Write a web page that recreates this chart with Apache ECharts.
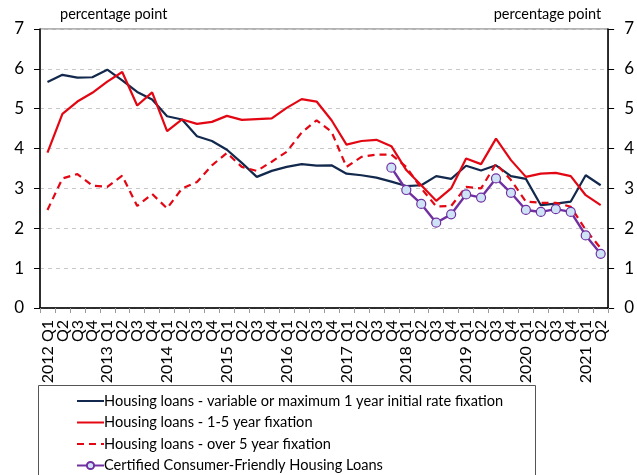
<!DOCTYPE html>
<html>
<head>
<meta charset="utf-8">
<script src="https://cdn.jsdelivr.net/npm/echarts@6/dist/echarts.min.js"></script>
<style>
  html, body { margin: 0; padding: 0; background: #fff; }
  #chart { width: 637px; height: 475px; }
</style>
</head>
<body>
<div id="chart"></div>
<script>
// quarters 2012 Q1 .. 2021 Q2
let years = ['2012', '2013', '2014', '2015', '2016', '2017', '2018', '2019', '2020', '2021'];
let quarters = [];
for (let i = 0; i < 38; i++) {
    let q = i % 4 + 1;
    quarters.push(q === 1 ? years[Math.floor(i / 4)] + ' Q1' : 'Q' + q);
}

let variableRate = [5.67, 5.85, 5.78, 5.79, 5.98, 5.71, 5.42, 5.23, 4.81, 4.73,
    4.31, 4.19, 3.97, 3.64, 3.29, 3.44, 3.54, 3.61, 3.57, 3.58,
    3.37, 3.33, 3.27, 3.17, 3.06, 3.08, 3.31, 3.24, 3.57, 3.45,
    3.58, 3.31, 3.24, 2.58, 2.62, 2.67, 3.33, 3.08];
let fix1to5 = [3.90, 4.87, 5.18, 5.40, 5.68, 5.92, 5.08, 5.41, 4.44, 4.73,
    4.62, 4.67, 4.82, 4.72, 4.74, 4.76, 5.02, 5.24, 5.18, 4.71,
    4.10, 4.19, 4.22, 4.06, 3.46, 3.08, 2.69, 3.00, 3.75, 3.61,
    4.25, 3.71, 3.29, 3.37, 3.39, 3.31, 2.83, 2.58];
let fixOver5 = [2.46, 3.25, 3.36, 3.07, 3.04, 3.32, 2.56, 2.86, 2.50, 3.00,
    3.16, 3.58, 3.89, 3.54, 3.44, 3.67, 3.92, 4.40, 4.71, 4.42,
    3.54, 3.79, 3.85, 3.85, 3.54, 3.00, 2.55, 2.56, 3.04, 3.00,
    3.62, 3.21, 2.67, 2.64, 2.64, 2.54, 1.96, 1.50];
let certified = [null, null, null, null, null, null, null, null, null, null,
    null, null, null, null, null, null, null, null, null, null,
    null, null, null, 3.52, 2.96, 2.61, 2.14, 2.35, 2.85, 2.77,
    3.25, 2.89, 2.46, 2.41, 2.48, 2.41, 1.82, 1.36];

let seriesNames = [
    'Housing loans - variable or maximum 1 year initial rate fixation',
    'Housing loans - 1-5 year fixation',
    'Housing loans - over 5 year fixation',
    'Certified Consumer-Friendly Housing Loans'
];

let font = 'Lato, "Open Sans", sans-serif';

window.addEventListener('load', function () {
    let chart = echarts.init(document.getElementById('chart'));

    let yAxisBase = {
        type: 'value',
        min: 0,
        max: 7,
        interval: 1,
        axisLine: { show: true, lineStyle: { color: '#000', width: 1.5 } },
        axisTick: { show: true, length: 6, lineStyle: { color: '#000' } },
        splitLine: { show: false },
        axisLabel: { fontSize: 17, color: '#000', fontFamily: font },
        name: 'percentage point',
        nameLocation: 'end',
        nameGap: 7,
        nameTextStyle: { fontSize: 14.5, color: '#000', fontFamily: font }
    };

    // legend entries: no dot for the plain line series
    let legendData = seriesNames.map(function (name, i) {
        return i < 3 ? { name: name, itemStyle: { opacity: 0 } } : { name: name };
    });

    let option = {
        animation: false,
        backgroundColor: '#fff',
        grid: {
            left: 40, right: 22, top: 29, bottom: 167,
            show: true, borderColor: '#666', borderWidth: 1
        },
        legend: {
            orient: 'vertical',
            left: 76,
            top: 392,
            padding: 0,
            itemGap: 3.5,
            itemWidth: 27,
            itemHeight: 9,
            textStyle: { fontSize: 14.6, lineHeight: 18, color: '#000', fontFamily: font, padding: [0, 0, 0, -5] },
            data: legendData
        },
        xAxis: {
            type: 'category',
            data: quarters,
            boundaryGap: true,
            axisLine: { lineStyle: { color: '#000', width: 1.5 } },
            axisTick: { show: true, length: 5, lineStyle: { color: '#999' } },
            axisLabel: {
                interval: 0, rotate: 90, margin: 12,
                fontSize: 16, color: '#000', fontFamily: font
            }
        },
        yAxis: [
            Object.assign({}, yAxisBase, {
                position: 'left',
                axisLabel: Object.assign({}, yAxisBase.axisLabel, { margin: 16 }),
                splitLine: { show: true, lineStyle: { color: '#c8c8c8', type: [4, 4] } },
                nameTextStyle: Object.assign({}, yAxisBase.nameTextStyle, { align: 'left', padding: [0, 0, 0, 20] })
            }),
            Object.assign({}, yAxisBase, {
                position: 'right',
                axisLabel: Object.assign({}, yAxisBase.axisLabel, { margin: 16 }),
                nameTextStyle: Object.assign({}, yAxisBase.nameTextStyle, { align: 'right', padding: [0, 7, 0, 0] })
            })
        ],
        series: [
            {
                name: seriesNames[0], type: 'line', data: variableRate,
                symbol: 'none', color: '#12284c',
                lineStyle: { width: 2.2, color: '#12284c' }
            },
            {
                name: seriesNames[1], type: 'line', data: fix1to5,
                symbol: 'none', color: '#e30613',
                lineStyle: { width: 2.2, color: '#e30613' }
            },
            {
                name: seriesNames[2], type: 'line', data: fixOver5,
                symbol: 'none', color: '#e30613',
                lineStyle: { width: 2.2, color: '#e30613', type: [7, 5] }
            },
            {
                name: seriesNames[3], type: 'line', data: certified,
                symbol: 'circle', symbolSize: 9, showSymbol: true,
                color: '#7030a0',
                itemStyle: { color: '#cfe3f7', borderColor: '#7030a0', borderWidth: 1.2 },
                lineStyle: { width: 2.4, color: '#7030a0' }
            }
        ],
        graphic: [
            {
                type: 'rect', silent: true, z: -1,
                shape: { x: 38.5, y: 385.5, width: 497, height: 100 },
                style: { fill: 'none', stroke: '#555', lineWidth: 1 }
            }
        ]
    };

    chart.setOption(option);
});
</script>
</body>
</html>
